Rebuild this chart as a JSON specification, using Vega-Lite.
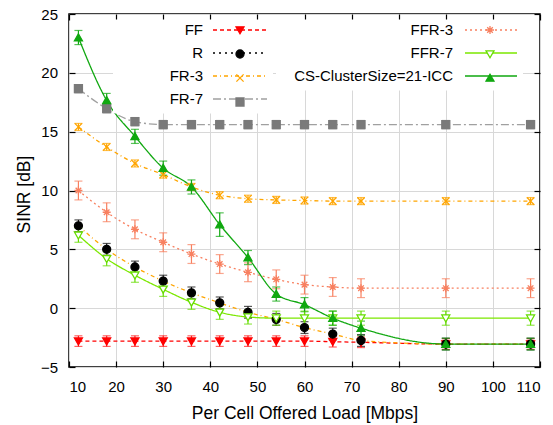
{
  "$schema": "https://vega.github.io/schema/vega-lite/v6.json",
  "width": 471,
  "height": 353,
  "autosize": {"type": "none"},
  "padding": {"left": 69, "top": 14, "right": 13, "bottom": 58},
  "background": "white",
  "config": {
    "font": "Liberation Sans",
    "view": {"stroke": "#000", "strokeWidth": 1.5},
    "axis": {
      "labelFont": "Liberation Sans", "labelFontSize": 15, "labelColor": "#000",
      "titleFont": "Liberation Sans", "titleFontSize": 17.5, "titleFontWeight": "normal", "titleColor": "#000",
      "tickColor": "#000", "tickWidth": 1.2, "tickSize": -6, "domain": false,
      "gridColor": "#d8d8d8", "gridWidth": 1
    },
    "legend": {
      "labelFont": "Liberation Sans", "labelFontSize": 15, "labelColor": "#000",
      "labelLimit": 400, "rowPadding": 0, "orient": "none", "title": null
    }
  },
  "data": {"values": [
    {"s":"FF","g":"A","x":12,"y":-2.8,"lo":-3.25,"hi":-2.35},
    {"s":"FF","g":"A","x":18,"y":-2.8,"lo":-3.25,"hi":-2.35},
    {"s":"FF","g":"A","x":24,"y":-2.8,"lo":-3.25,"hi":-2.35},
    {"s":"FF","g":"A","x":30,"y":-2.8,"lo":-3.25,"hi":-2.35},
    {"s":"FF","g":"A","x":36,"y":-2.8,"lo":-3.25,"hi":-2.35},
    {"s":"FF","g":"A","x":42,"y":-2.8,"lo":-3.25,"hi":-2.35},
    {"s":"FF","g":"A","x":48,"y":-2.8,"lo":-3.25,"hi":-2.35},
    {"s":"FF","g":"A","x":54,"y":-2.8,"lo":-3.25,"hi":-2.35},
    {"s":"FF","g":"A","x":60,"y":-2.8,"lo":-3.25,"hi":-2.35},
    {"s":"FF","g":"A","x":66,"y":-2.85,"lo":-3.3,"hi":-2.4},
    {"s":"FF","g":"A","x":72,"y":-2.9,"lo":-3.35,"hi":-2.45},
    {"s":"FF","g":"A","x":90,"y":-3.05,"lo":-3.5,"hi":-2.6},
    {"s":"FF","g":"A","x":108,"y":-3.05,"lo":-3.5,"hi":-2.6},
    {"s":"R","g":"A","x":12,"y":7.0,"lo":6.5,"hi":7.5},
    {"s":"R","g":"A","x":18,"y":5.0,"lo":4.5,"hi":5.5},
    {"s":"R","g":"A","x":24,"y":3.5,"lo":3.0,"hi":4.0},
    {"s":"R","g":"A","x":30,"y":2.3,"lo":1.8,"hi":2.8},
    {"s":"R","g":"A","x":36,"y":1.3,"lo":0.8,"hi":1.8},
    {"s":"R","g":"A","x":42,"y":0.45,"lo":-0.05,"hi":0.95},
    {"s":"R","g":"A","x":48,"y":-0.35,"lo":-0.85,"hi":0.15},
    {"s":"R","g":"A","x":54,"y":-0.95,"lo":-1.45,"hi":-0.45},
    {"s":"R","g":"A","x":60,"y":-1.65,"lo":-2.15,"hi":-1.15},
    {"s":"R","g":"A","x":66,"y":-2.2,"lo":-2.7,"hi":-1.7},
    {"s":"R","g":"A","x":72,"y":-2.75,"lo":-3.25,"hi":-2.25},
    {"s":"R","g":"A","x":90,"y":-3.05,"lo":-3.55,"hi":-2.55},
    {"s":"R","g":"A","x":108,"y":-3.05,"lo":-3.55,"hi":-2.55},
    {"s":"FR-3","g":"A","x":12,"y":15.4,"lo":15.1,"hi":15.7},
    {"s":"FR-3","g":"A","x":18,"y":13.7,"lo":13.4,"hi":14.0},
    {"s":"FR-3","g":"A","x":24,"y":12.3,"lo":12.0,"hi":12.6},
    {"s":"FR-3","g":"A","x":30,"y":11.35,"lo":11.05,"hi":11.65},
    {"s":"FR-3","g":"A","x":36,"y":10.3,"lo":10.0,"hi":10.6},
    {"s":"FR-3","g":"A","x":42,"y":9.6,"lo":9.3,"hi":9.9},
    {"s":"FR-3","g":"A","x":48,"y":9.3,"lo":9.0,"hi":9.6},
    {"s":"FR-3","g":"A","x":54,"y":9.2,"lo":8.9,"hi":9.5},
    {"s":"FR-3","g":"A","x":60,"y":9.15,"lo":8.85,"hi":9.45},
    {"s":"FR-3","g":"A","x":66,"y":9.1,"lo":8.8,"hi":9.4},
    {"s":"FR-3","g":"A","x":72,"y":9.1,"lo":8.8,"hi":9.4},
    {"s":"FR-3","g":"A","x":90,"y":9.1,"lo":8.8,"hi":9.4},
    {"s":"FR-3","g":"A","x":108,"y":9.1,"lo":8.8,"hi":9.4},
    {"s":"FR-7","g":"A","x":12,"y":18.65,"lo":18.3,"hi":19.0},
    {"s":"FR-7","g":"A","x":18,"y":16.95,"lo":16.6,"hi":17.3},
    {"s":"FR-7","g":"A","x":24,"y":15.85,"lo":15.5,"hi":16.2},
    {"s":"FR-7","g":"A","x":30,"y":15.6,"lo":15.25,"hi":15.95},
    {"s":"FR-7","g":"A","x":36,"y":15.6,"lo":15.25,"hi":15.95},
    {"s":"FR-7","g":"A","x":42,"y":15.6,"lo":15.25,"hi":15.95},
    {"s":"FR-7","g":"A","x":48,"y":15.6,"lo":15.25,"hi":15.95},
    {"s":"FR-7","g":"A","x":54,"y":15.6,"lo":15.25,"hi":15.95},
    {"s":"FR-7","g":"A","x":60,"y":15.6,"lo":15.25,"hi":15.95},
    {"s":"FR-7","g":"A","x":66,"y":15.6,"lo":15.25,"hi":15.95},
    {"s":"FR-7","g":"A","x":72,"y":15.6,"lo":15.25,"hi":15.95},
    {"s":"FR-7","g":"A","x":90,"y":15.6,"lo":15.25,"hi":15.95},
    {"s":"FR-7","g":"A","x":108,"y":15.6,"lo":15.25,"hi":15.95},
    {"s":"FFR-3","g":"B","x":12,"y":10.0,"lo":9.2,"hi":10.8},
    {"s":"FFR-3","g":"B","x":18,"y":8.15,"lo":7.35,"hi":8.95},
    {"s":"FFR-3","g":"B","x":24,"y":6.7,"lo":5.9,"hi":7.5},
    {"s":"FFR-3","g":"B","x":30,"y":5.6,"lo":4.8,"hi":6.4},
    {"s":"FFR-3","g":"B","x":36,"y":4.6,"lo":3.8,"hi":5.4},
    {"s":"FFR-3","g":"B","x":42,"y":3.75,"lo":2.95,"hi":4.55},
    {"s":"FFR-3","g":"B","x":48,"y":3.05,"lo":2.25,"hi":3.85},
    {"s":"FFR-3","g":"B","x":54,"y":2.45,"lo":1.65,"hi":3.25},
    {"s":"FFR-3","g":"B","x":60,"y":2.0,"lo":1.2,"hi":2.8},
    {"s":"FFR-3","g":"B","x":66,"y":1.8,"lo":1.0,"hi":2.6},
    {"s":"FFR-3","g":"B","x":72,"y":1.7,"lo":0.9,"hi":2.5},
    {"s":"FFR-3","g":"B","x":90,"y":1.7,"lo":0.9,"hi":2.5},
    {"s":"FFR-3","g":"B","x":108,"y":1.7,"lo":0.9,"hi":2.5},
    {"s":"FFR-7","g":"B","x":12,"y":6.2,"lo":5.6,"hi":6.8},
    {"s":"FFR-7","g":"B","x":18,"y":4.2,"lo":3.6,"hi":4.8},
    {"s":"FFR-7","g":"B","x":24,"y":2.8,"lo":2.2,"hi":3.4},
    {"s":"FFR-7","g":"B","x":30,"y":1.6,"lo":1.0,"hi":2.2},
    {"s":"FFR-7","g":"B","x":36,"y":0.5,"lo":-0.1,"hi":1.1},
    {"s":"FFR-7","g":"B","x":42,"y":-0.35,"lo":-0.95,"hi":0.25},
    {"s":"FFR-7","g":"B","x":48,"y":-0.75,"lo":-1.35,"hi":-0.15},
    {"s":"FFR-7","g":"B","x":54,"y":-0.85,"lo":-1.45,"hi":-0.25},
    {"s":"FFR-7","g":"B","x":60,"y":-0.85,"lo":-1.45,"hi":-0.25},
    {"s":"FFR-7","g":"B","x":66,"y":-0.85,"lo":-1.45,"hi":-0.25},
    {"s":"FFR-7","g":"B","x":72,"y":-0.85,"lo":-1.45,"hi":-0.25},
    {"s":"FFR-7","g":"B","x":90,"y":-0.85,"lo":-1.45,"hi":-0.25},
    {"s":"FFR-7","g":"B","x":108,"y":-0.85,"lo":-1.45,"hi":-0.25},
    {"s":"CS-ClusterSize=21-ICC","g":"B","x":12,"y":23.0,"lo":22.4,"hi":23.6},
    {"s":"CS-ClusterSize=21-ICC","g":"B","x":18,"y":17.65,"lo":17.05,"hi":18.25},
    {"s":"CS-ClusterSize=21-ICC","g":"B","x":24,"y":14.6,"lo":14.0,"hi":15.2},
    {"s":"CS-ClusterSize=21-ICC","g":"B","x":30,"y":11.9,"lo":11.3,"hi":12.5},
    {"s":"CS-ClusterSize=21-ICC","g":"B","x":36,"y":10.3,"lo":9.7,"hi":10.9},
    {"s":"CS-ClusterSize=21-ICC","g":"B","x":42,"y":7.1,"lo":6.1,"hi":8.1},
    {"s":"CS-ClusterSize=21-ICC","g":"B","x":48,"y":4.3,"lo":3.7,"hi":4.9},
    {"s":"CS-ClusterSize=21-ICC","g":"B","x":54,"y":1.2,"lo":0.6,"hi":1.8},
    {"s":"CS-ClusterSize=21-ICC","g":"B","x":60,"y":0.3,"lo":-0.3,"hi":0.9},
    {"s":"CS-ClusterSize=21-ICC","g":"B","x":66,"y":-0.85,"lo":-1.45,"hi":-0.25},
    {"s":"CS-ClusterSize=21-ICC","g":"B","x":72,"y":-1.7,"lo":-2.3,"hi":-1.1},
    {"s":"CS-ClusterSize=21-ICC","g":"B","x":90,"y":-3.05,"lo":-3.55,"hi":-2.55},
    {"s":"CS-ClusterSize=21-ICC","g":"B","x":108,"y":-3.05,"lo":-3.55,"hi":-2.55}
  ]},
  "layer": [
    {
      "transform": [{"filter": "datum.g == 'A' && datum.s != 'R'"}],
      "mark": {"type": "line", "interpolate": "monotone", "strokeWidth": 1.3},
      "encoding": {
        "x": {"field": "x", "type": "quantitative", "scale": {"domain": [10, 110], "nice": false}, "axis": null},
        "y": {"field": "y", "type": "quantitative", "scale": {"domain": [-5, 25], "nice": false}, "axis": null},
        "stroke": {"field": "s", "type": "nominal",
          "scale": {"domain": ["FF", "R", "FR-3", "FR-7"], "range": ["#ff0000", "#000000", "#ffa500", "#a0a0a0"]},
          "legend": {"orient": "none", "legendX": 44, "legendY": 5.5, "symbolType": "M17.9,-1.7L17.9,-1.7M17.9,1.7L17.9,1.7M17.9,0H28.7", "symbolSize": 100, "symbolStrokeWidth": 1.3, "labelAlign": "right", "labelOffset": 72, "padding": 3, "fillColor": "white"}},
        "strokeDash": {"field": "s", "type": "nominal",
          "scale": {"domain": ["FF", "R", "FR-3", "FR-7"], "range": [[4, 3], [2, 4], [4, 3, 1, 3], [8, 3, 2, 3]]},
          "legend": {"orient": "none", "legendX": 44, "legendY": 5.5, "symbolType": "M17.9,-1.7L17.9,-1.7M17.9,1.7L17.9,1.7M17.9,0H28.7", "symbolSize": 100, "symbolStrokeWidth": 1.3, "labelAlign": "right", "labelOffset": 72, "padding": 3, "fillColor": "white"}}
      }
    },
    {
      "transform": [{"filter": "datum.s == 'R'"}],
      "mark": {"type": "line", "interpolate": "monotone", "strokeWidth": 1.3, "stroke": "#ffa500", "strokeDash": [4, 3, 1, 3]},
      "encoding": {
        "x": {"field": "x", "type": "quantitative", "scale": {"domain": [10, 110], "nice": false}, "axis": null},
        "y": {"field": "y", "type": "quantitative", "scale": {"domain": [-5, 25], "nice": false}, "axis": null}
      }
    },
    {
      "transform": [{"filter": "datum.g == 'B'"}],
      "mark": {"type": "line", "interpolate": "monotone", "strokeWidth": 1.3},
      "encoding": {
        "x": {"field": "x", "type": "quantitative", "scale": {"domain": [10, 110], "nice": false}, "axis": null},
        "y": {"field": "y", "type": "quantitative", "scale": {"domain": [-5, 25], "nice": false}, "axis": null},
        "stroke": {"field": "s", "type": "nominal",
          "scale": {"domain": ["FFR-3", "FFR-7", "CS-ClusterSize=21-ICC"], "range": ["#f88060", "#7ce800", "#10a810"]},
          "legend": {"orient": "none", "legendX": 207, "legendY": 5.5, "symbolType": "M35.7,-1.7L35.7,-1.7M35.7,1.7L35.7,1.7M35.7,0H46.1", "symbolSize": 100, "symbolStrokeWidth": 1.3, "labelAlign": "right", "labelOffset": 159, "padding": 3, "fillColor": "white"}},
        "strokeDash": {"field": "s", "type": "nominal",
          "scale": {"domain": ["FFR-3", "FFR-7", "CS-ClusterSize=21-ICC"], "range": [[2, 3], [1, 0], [1, 0]]},
          "legend": {"orient": "none", "legendX": 207, "legendY": 5.5, "symbolType": "M35.7,-1.7L35.7,-1.7M35.7,1.7L35.7,1.7M35.7,0H46.1", "symbolSize": 100, "symbolStrokeWidth": 1.3, "labelAlign": "right", "labelOffset": 159, "padding": 3, "fillColor": "white"}}
      }
    },
    {
      "mark": {"type": "errorbar", "ticks": {"size": 8}, "thickness": 1.2},
      "encoding": {
        "x": {"field": "x", "type": "quantitative", "scale": {"domain": [10, 110], "nice": false},
          "axis": {"values": [10, 20, 30, 40, 50, 60, 70, 80, 90, 100, 110], "title": "Per Cell Offered Load [Mbps]", "grid": true, "labelPadding": 18.5, "titleX": 235.5, "titleY": 51, "titleBaseline": "alphabetic"}},
        "y": {"field": "lo", "type": "quantitative", "scale": {"domain": [-5, 25], "nice": false},
          "axis": {"values": [-5, 0, 5, 10, 15, 20, 25], "title": "SINR [dB]", "grid": true, "labelPadding": 17.5, "titleX": -40, "titleY": 180, "titleBaseline": "alphabetic"}},
        "y2": {"field": "hi"},
        "color": {"field": "s", "type": "nominal",
          "scale": {"domain": ["FF", "R", "FR-3", "FR-7", "FFR-3", "FFR-7", "CS-ClusterSize=21-ICC"], "range": ["#ff2020", "#111111", "#ffa500", "#888888", "#f88060", "#66dd00", "#10a810"]},
          "legend": null}
      }
    },
    {
      "transform": [{"filter": "datum.g == 'A'"}],
      "mark": {"type": "point", "size": 64, "strokeWidth": 1.3, "opacity": 1},
      "encoding": {
        "x": {"field": "x", "type": "quantitative", "scale": {"domain": [10, 110], "nice": false},
          "axis": {"orient": "top", "values": [10, 20, 30, 40, 50, 60, 70, 80, 90, 100, 110], "labels": false, "grid": false, "title": null}},
        "y": {"field": "y", "type": "quantitative", "scale": {"domain": [-5, 25], "nice": false},
          "axis": {"orient": "right", "values": [-5, 0, 5, 10, 15, 20, 25], "labels": false, "grid": false, "title": null}},
        "stroke": {"field": "s", "type": "nominal",
          "scale": {"domain": ["FF", "R", "FR-3", "FR-7"], "range": ["#ff0000", "#000000", "#ffa500", "#7a7a7a"]},
          "legend": {"orient": "none", "legendX": 166, "legendY": 11, "symbolSize": 64, "symbolStrokeWidth": 1.3, "labelExpr": "''", "labelFontSize": 0, "labelOpacity": 0, "labelOffset": -6, "padding": 0}},
        "fill": {"field": "s", "type": "nominal",
          "scale": {"domain": ["FF", "R", "FR-3", "FR-7"], "range": ["#ff0000", "#000000", "transparent", "#7a7a7a"]},
          "legend": {"orient": "none", "legendX": 166, "legendY": 11, "symbolSize": 64, "symbolStrokeWidth": 1.3, "labelExpr": "''", "labelFontSize": 0, "labelOpacity": 0, "labelOffset": -6, "padding": 0}},
        "shape": {"field": "s", "type": "nominal",
          "scale": {"domain": ["FF", "R", "FR-3", "FR-7"], "range": [
            "M-1,-0.8L1,-0.8L0,0.95ZM-1.2,-2.125L-1.2,-2.125M1.2,2.125L1.2,2.125",
            "M1,0A1,1,0,1,1,-1,0A1,1,0,1,1,1,0ZM-1.2,-2.125L-1.2,-2.125M1.2,2.125L1.2,2.125",
            "M-0.9,-0.9L0.9,0.9M-0.9,0.9L0.9,-0.9M-1.2,-2.125L-1.2,-2.125M1.2,2.125L1.2,2.125",
            "M-1,-1H1V1H-1ZM-1.2,-2.125L-1.2,-2.125M1.2,2.125L1.2,2.125"]},
          "legend": {"orient": "none", "legendX": 166, "legendY": 11, "symbolSize": 64, "symbolStrokeWidth": 1.3, "labelExpr": "''", "labelFontSize": 0, "labelOpacity": 0, "labelOffset": -6, "padding": 0}}
      }
    },
    {
      "transform": [{"filter": "datum.g == 'B'"}],
      "mark": {"type": "point", "size": 64, "strokeWidth": 1.3, "opacity": 1},
      "encoding": {
        "x": {"field": "x", "type": "quantitative", "scale": {"domain": [10, 110], "nice": false}, "axis": null},
        "y": {"field": "y", "type": "quantitative", "scale": {"domain": [-5, 25], "nice": false}, "axis": null},
        "stroke": {"field": "s", "type": "nominal",
          "scale": {"domain": ["FFR-3", "FFR-7", "CS-ClusterSize=21-ICC"], "range": ["#f88060", "#66dd00", "#10a810"]},
          "legend": {"orient": "none", "legendX": 416, "legendY": 11, "symbolSize": 64, "symbolStrokeWidth": 1.3, "labelExpr": "''", "labelFontSize": 0, "labelOpacity": 0, "labelOffset": -6, "padding": 0}},
        "fill": {"field": "s", "type": "nominal",
          "scale": {"domain": ["FFR-3", "FFR-7", "CS-ClusterSize=21-ICC"], "range": ["transparent", "white", "#10a810"]},
          "legend": {"orient": "none", "legendX": 416, "legendY": 11, "symbolSize": 64, "symbolStrokeWidth": 1.3, "labelExpr": "''", "labelFontSize": 0, "labelOpacity": 0, "labelOffset": -6, "padding": 0}},
        "shape": {"field": "s", "type": "nominal",
          "scale": {"domain": ["FFR-3", "FFR-7", "CS-ClusterSize=21-ICC"], "range": [
            "M-1,0H1M0,-1V1M-0.7,-0.7L0.7,0.7M-0.7,0.7L0.7,-0.7M-1.2,-2.125L-1.2,-2.125M1.2,2.125L1.2,2.125",
            "M-1,-0.8L1,-0.8L0,0.95ZM-1.2,-2.125L-1.2,-2.125M1.2,2.125L1.2,2.125",
            "M-1,0.8L1,0.8L0,-0.95ZM-1.2,-2.125L-1.2,-2.125M1.2,2.125L1.2,2.125"]},
          "legend": {"orient": "none", "legendX": 416, "legendY": 11, "symbolSize": 64, "symbolStrokeWidth": 1.3, "labelExpr": "''", "labelFontSize": 0, "labelOpacity": 0, "labelOffset": -6, "padding": 0}}
      }
    }
  ],
  "resolve": {
    "scale": {"color": "independent", "stroke": "independent", "fill": "independent", "shape": "independent", "strokeDash": "independent"},
    "axis": {"x": "independent", "y": "independent"}
  }
}
